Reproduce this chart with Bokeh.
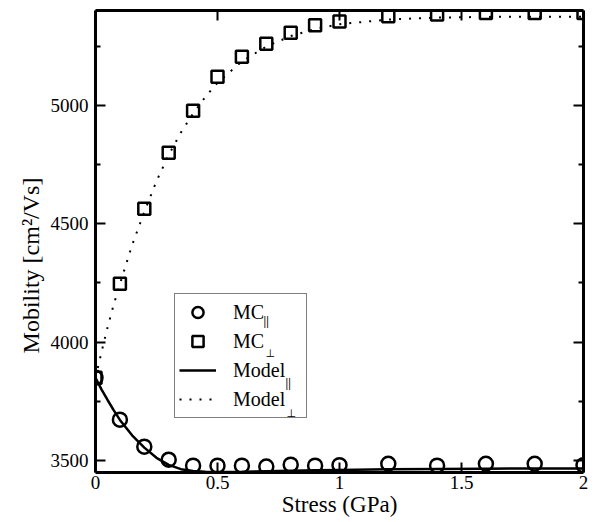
import math
from bokeh.plotting import figure
from bokeh.models import (Range1d, LinearAxis, FixedTicker, Label, Legend,
                          LegendItem, ColumnDataSource)
from bokeh.embed import file_html
from bokeh.resources import INLINE

# ---- data ----
stress_mc = [0, 0.1, 0.2, 0.3, 0.4, 0.5, 0.6, 0.7, 0.8, 0.9, 1.0, 1.2, 1.4, 1.6, 1.8, 2.0]
mc_par = [3850, 3673, 3559, 3504, 3479, 3479, 3479, 3475, 3483, 3479, 3481, 3487, 3479, 3487, 3487, 3481]
mc_perp = [3850, 4247, 4563, 4800, 4977, 5120, 5205, 5260, 5306, 5338, 5354, 5376, 5383, 5389, 5389, 5389]

stress_model = [0, 0.025, 0.05, 0.075, 0.1, 0.15, 0.2, 0.25, 0.3, 0.35, 0.4, 0.45,
                0.5, 0.6, 0.7, 0.8, 0.9, 1.0, 1.2, 1.4, 1.6, 1.8, 2.0]
model_par = [3850, 3800, 3755, 3712, 3672, 3607, 3555, 3512, 3482, 3464, 3456, 3453,
             3452, 3453, 3455, 3457, 3459, 3461, 3464, 3465, 3466, 3467, 3467]
model_perp = [3850, 3960, 4065, 4160, 4245, 4410, 4550, 4680, 4790, 4885, 4965, 5035,
              5095, 5185, 5248, 5292, 5322, 5342, 5362, 5370, 5373, 5374, 5374]

x_ticks = [0, 0.5, 1, 1.5, 2]
x_tick_labels = ["0", "0.5", "1", "1.5", "2"]
y_ticks = [3500, 4000, 4500, 5000]
y_minor_ticks = [3750, 4250, 4750, 5250]

x_title = "Stress (GPa)"
y_title = "Mobility [cm\u00b2/Vs]"
legend_main = ["MC", "MC", "Model", "Model"]
legend_sub = ["||", "\u22a5", "||", "\u22a5"]

FONT = "Liberation Serif"

p = figure(width=596, height=522, x_range=Range1d(0, 2), y_range=Range1d(3450, 5400),
           output_backend="svg", toolbar_location=None,
           min_border_left=95, min_border_right=13, min_border_top=10, min_border_bottom=50)
p.grid.visible = False
p.outline_line_color = None
p.background_fill_color = "white"
p.border_fill_color = "white"

xt = FixedTicker(ticks=x_ticks, minor_ticks=[])
yt = FixedTicker(ticks=y_ticks, minor_ticks=y_minor_ticks)

bottom_axis = p.xaxis[0]
left_axis = p.yaxis[0]
bottom_axis.ticker = xt
left_axis.ticker = yt
bottom_axis.major_label_overrides = {float(v): s for v, s in zip(x_ticks, x_tick_labels)}

top_axis = LinearAxis(ticker=xt)
right_axis = LinearAxis(ticker=yt)
p.add_layout(top_axis, "above")
p.add_layout(right_axis, "right")

for ax in [bottom_axis, left_axis, top_axis, right_axis]:
    ax.axis_line_width = 3
    ax.axis_line_color = "black"
    ax.major_tick_in = 10
    ax.major_tick_out = 0
    ax.minor_tick_in = 5
    ax.minor_tick_out = 0
    ax.major_tick_line_width = 2
    ax.minor_tick_line_width = 2
    ax.major_label_text_font = FONT
    ax.major_label_text_font_size = "19px"
    ax.major_label_text_color = "black"

# mirrored axes: ticks only, no labels
top_axis.major_label_overrides = {float(v): "" for v in x_ticks}
right_axis.major_label_overrides = {float(v): "" for v in y_ticks}
for ax in [top_axis, right_axis]:
    ax.major_label_standoff = 0

bottom_axis.major_label_standoff = 3
left_axis.major_label_standoff = 7

bottom_axis.axis_label = x_title
left_axis.axis_label = y_title + "\u2002" * 4
for ax in [bottom_axis, left_axis]:
    ax.axis_label_text_font = FONT
    ax.axis_label_text_font_style = "normal"
    ax.axis_label_text_color = "black"
bottom_axis.axis_label_text_font_size = "23px"
left_axis.axis_label_text_font_size = "24px"
bottom_axis.axis_label_standoff = 0
left_axis.axis_label_standoff = 4

# ---- data marks ----
src_mc = ColumnDataSource(dict(x=stress_mc, par=mc_par, perp=mc_perp))
src_model = ColumnDataSource(dict(x=stress_model, par=model_par, perp=model_perp))

r_mpar = p.line("x", "par", source=src_model, line_color="black", line_width=2.5)
r_mperp = p.line("x", "perp", source=src_model, line_color="black", line_width=2,
                 line_dash="2 8")
r_cpar = p.scatter("x", "par", source=src_mc, marker="circle", size=14,
                   fill_color=None, line_color="black", line_width=2.5)
r_cperp = p.scatter("x", "perp", source=src_mc, marker="square", size=12,
                    fill_color=None, line_color="black", line_width=2.5)

# ---- legend ----
legend = Legend(items=[LegendItem(label=lab, renderers=[r]) for lab, r in
                       zip(legend_main, [r_cpar, r_cperp, r_mpar, r_mperp])],
                location=(79, 54), padding=4, spacing=1, glyph_height=28, glyph_width=37,
                label_standoff=17, label_width=69, label_height=28, margin=0,
                border_line_color="black", border_line_width=1.2,
                label_text_font=FONT, label_text_font_size="20px",
                label_text_color="black", background_fill_alpha=0)
p.add_layout(legend, "center")

sub_base = [152, 119, 90, 59]
sub_x = [168, 170, 190, 191]
sub_font = [FONT, "DejaVu Sans", FONT, "DejaVu Sans"]
sub_size = ["12px", "11px", "12px", "11px"]
sub_style = ["bold", "normal", "bold", "normal"]
for i in range(4):
    p.add_layout(Label(x=sub_x[i], y=sub_base[i], x_units="screen", y_units="screen",
                       text=legend_sub[i], text_font=sub_font[i], text_font_size=sub_size[i],
                       text_font_style=sub_style[i],
                       text_color="black", text_baseline="alphabetic", text_align="left"))

open("out.html", "w").write(file_html(p, INLINE))
